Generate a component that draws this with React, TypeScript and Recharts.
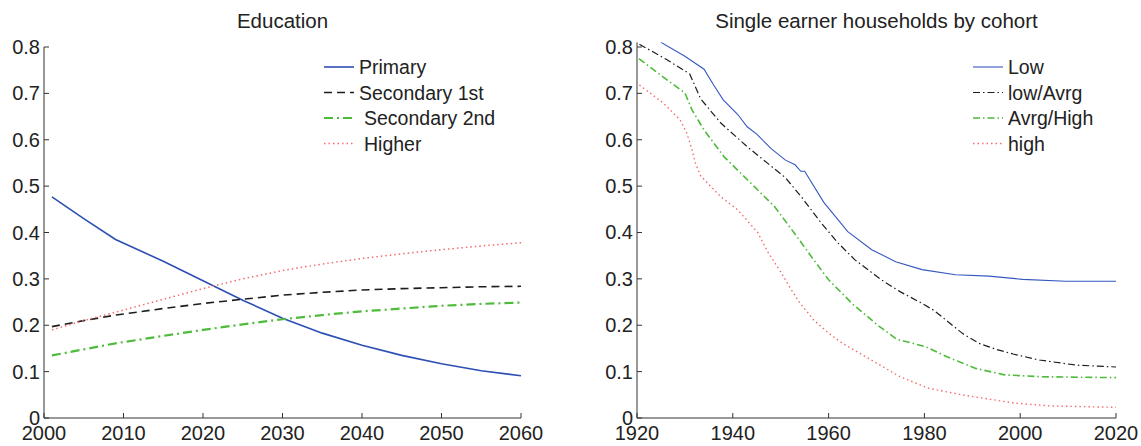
import * as React from "react";
import { LineChart, Line, XAxis, YAxis } from "recharts";

// ---- Education panel ----
const eduYears = [2001, 2005, 2009, 2015, 2020, 2025, 2030, 2035, 2040, 2045, 2050, 2055, 2060];
const primary = [0.477, 0.43, 0.385, 0.338, 0.296, 0.254, 0.215, 0.183, 0.157, 0.135, 0.117, 0.102, 0.091];
const secondary1 = [0.197, 0.21, 0.222, 0.236, 0.247, 0.256, 0.265, 0.271, 0.276, 0.279, 0.281, 0.283, 0.284];
const secondary2 = [0.135, 0.148, 0.161, 0.177, 0.19, 0.202, 0.213, 0.222, 0.23, 0.236, 0.242, 0.246, 0.249];
const higher = [0.19, 0.21, 0.228, 0.256, 0.279, 0.3, 0.318, 0.332, 0.344, 0.354, 0.363, 0.371, 0.378];
const eduXTicks = [2000, 2010, 2020, 2030, 2040, 2050, 2060];

// ---- Single earner households panel: [cohort, share] ----
const low = [
  [1925, 0.81], [1930, 0.78], [1934, 0.752], [1936, 0.718], [1938, 0.686], [1941, 0.655],
  [1943, 0.628], [1945, 0.612], [1948, 0.581], [1951, 0.556], [1953, 0.546], [1954.2, 0.532],
  [1955, 0.532], [1959, 0.465], [1964, 0.402], [1969, 0.363], [1974, 0.337], [1979.5, 0.32],
  [1986.5, 0.309], [1993.5, 0.306], [2000.5, 0.299], [2009.5, 0.295], [2020, 0.295],
];
const lowAvrg = [
  [1920.5, 0.806], [1926, 0.774], [1931, 0.742], [1933.3, 0.688], [1937.5, 0.636], [1943, 0.585],
  [1947.3, 0.549], [1951, 0.518], [1954.3, 0.477], [1958.5, 0.42], [1962, 0.377], [1965.5, 0.341],
  [1971, 0.298], [1975, 0.272], [1979, 0.25], [1982, 0.232], [1985, 0.207], [1988, 0.182],
  [1991.4, 0.161], [1995, 0.148], [1998.5, 0.138], [2004, 0.125], [2011.7, 0.114], [2020, 0.11],
];
const avrgHigh = [
  [1920.4, 0.775], [1925.5, 0.735], [1930, 0.701], [1931.5, 0.664], [1934, 0.621], [1938.2, 0.563],
  [1944.5, 0.499], [1948.7, 0.456], [1952.9, 0.398], [1956.4, 0.348], [1960, 0.298], [1965.2, 0.244],
  [1970.4, 0.199], [1974.2, 0.17], [1980.2, 0.154], [1984.7, 0.132], [1990.7, 0.107], [1996.7, 0.093],
  [2004.2, 0.089], [2020, 0.087],
];
const high = [
  [1920.5, 0.718], [1925.5, 0.679], [1929, 0.643], [1930.4, 0.614], [1931.5, 0.578], [1932.2, 0.549],
  [1933.3, 0.522], [1937.5, 0.477], [1941, 0.449], [1945.2, 0.4], [1947.3, 0.358], [1950, 0.315],
  [1952, 0.28], [1954, 0.248], [1956.9, 0.211], [1960, 0.183], [1962.9, 0.161], [1968.9, 0.125],
  [1974.9, 0.089], [1980.9, 0.064], [1988.4, 0.049], [1998.9, 0.032], [2006.4, 0.026], [2020, 0.023],
];
const cohortXTicks = [1920, 1940, 1960, 1980, 2000, 2020];

const shareTicks = [0, 0.1, 0.2, 0.3, 0.4, 0.5, 0.6, 0.7, 0.8];

const FONT = "'Liberation Sans', Arial, Helvetica, sans-serif";
const AXIS = "#333";
const FS = 20;
const LEGEND_FS = 19.5;
const TITLE_FS = 20.5;

const eduSeries = [
  { key: "primary", name: "Primary", color: "#2d4fb3", dash: undefined, width: 1.6, indent: 0 },
  { key: "secondary1", name: "Secondary 1st", color: "#1e1e1e", dash: "8 5", width: 1.6, indent: 0 },
  { key: "secondary2", name: "Secondary 2nd", color: "#4fbb3b", dash: "9 4 2 4", width: 2.2, indent: 5 },
  { key: "higher", name: "Higher", color: "#f26c6c", dash: "1.5 3", width: 1.5, indent: 5 },
];

const cohortSeries = [
  { name: "Low", points: low, color: "#3558c0", dash: undefined, width: 1.1 },
  { name: "low/Avrg", points: lowAvrg, color: "#1e1e1e", dash: "7 3 1.5 3", width: 1.2 },
  { name: "Avrg/High", points: avrgHigh, color: "#4fbb3b", dash: "7 3 1.5 3", width: 1.6 },
  { name: "high", points: high, color: "#f26c6c", dash: "1.5 3", width: 1.4 },
];

const eduData = eduYears.map((year, i) => ({
  year,
  primary: primary[i],
  secondary1: secondary1[i],
  secondary2: secondary2[i],
  higher: higher[i],
}));

const fmt = (v: number) => String(Math.round(v * 10) / 10);

function YTick(props: any) {
  const { x, y, payload } = props;
  return (
    <g>
      <line x1={x} y1={y} x2={x + 5} y2={y} stroke={AXIS} strokeWidth={1} />
      <text x={x - 4} y={y} textAnchor="end" dominantBaseline="central" fontSize={FS} fontFamily={FONT} fill="#222">
        {fmt(payload.value)}
      </text>
    </g>
  );
}

function XTick(props: any) {
  const { x, y, payload } = props;
  return (
    <g>
      <line x1={x} y1={y} x2={x} y2={y - 5} stroke={AXIS} strokeWidth={1} />
      <text x={x} y={y + 22} textAnchor="middle" fontSize={FS} fontFamily={FONT} fill="#222">
        {payload.value}
      </text>
    </g>
  );
}

function LegendRows({ x, items }: { x: number; items: { name: string; color: string; dash?: string; width: number; indent?: number }[] }) {
  return (
    <g>
      {items.map((s, i) => {
        const y = 67 + i * 25.5;
        return (
          <g key={s.name}>
            <line x1={x} y1={y} x2={x + 30} y2={y} stroke={s.color} strokeWidth={s.width} strokeDasharray={s.dash} />
            <text x={x + 35 + (s.indent || 0)} y={y} dominantBaseline="central" fontSize={LEGEND_FS} fontFamily={FONT} fill="#222">
              {s.name}
            </text>
          </g>
        );
      })}
    </g>
  );
}

export default function App() {
  return (
    <div style={{ position: "absolute", left: 0, top: 0, width: 1141, height: 446, background: "#fff" }}>
      <div style={{ position: "absolute", left: 0, top: 0 }}>
        <LineChart width={570} height={446} data={eduData} margin={{ top: 47, right: 49, bottom: 0, left: 0 }}>
          <XAxis
            dataKey="year"
            type="number"
            domain={[2000, 2060]}
            ticks={eduXTicks}
            height={28}
            tickSize={0}
            tickMargin={0}
            tickLine={false}
            axisLine={{ stroke: AXIS }}
            tick={<XTick />}
            allowDataOverflow
          />
          <YAxis
            type="number"
            domain={[0, 0.8]}
            ticks={shareTicks}
            width={44}
            tickSize={0}
            tickMargin={0}
            tickLine={false}
            axisLine={{ stroke: AXIS }}
            tick={<YTick />}
            allowDataOverflow
          />
          {eduSeries.map((s) => (
            <Line
              key={s.key}
              dataKey={s.key}
              type="linear"
              stroke={s.color}
              strokeWidth={s.width}
              strokeDasharray={s.dash}
              dot={false}
              activeDot={false}
              isAnimationActive={false}
            />
          ))}
        </LineChart>
      </div>
      <div style={{ position: "absolute", left: 580, top: 0 }}>
        <LineChart width={561} height={446} margin={{ top: 42.36, right: 25, bottom: 0, left: 0 }}>
          <XAxis
            dataKey="year"
            type="number"
            domain={[1920, 2020]}
            ticks={cohortXTicks}
            height={28}
            tickSize={0}
            tickMargin={0}
            tickLine={false}
            axisLine={{ stroke: AXIS }}
            tick={<XTick />}
            allowDataOverflow
            allowDuplicatedCategory={false}
          />
          <YAxis
            type="number"
            domain={[0, 0.81]}
            ticks={shareTicks}
            width={57}
            tickSize={0}
            tickMargin={0}
            tickLine={false}
            axisLine={{ stroke: AXIS }}
            tick={<YTick />}
            allowDataOverflow
          />
          {cohortSeries.map((s) => (
            <Line
              key={s.name}
              data={s.points.map(([year, v]) => ({ year, v }))}
              dataKey="v"
              type="linear"
              stroke={s.color}
              strokeWidth={s.width}
              strokeDasharray={s.dash}
              dot={false}
              activeDot={false}
              isAnimationActive={false}
            />
          ))}
        </LineChart>
      </div>
      <svg width={1141} height={446} style={{ position: "absolute", left: 0, top: 0, pointerEvents: "none" }}>
        <text x={282.5} y={28} textAnchor="middle" fontSize={TITLE_FS} fontFamily={FONT} fill="#222">
          Education
        </text>
        <text x={876.5} y={28} textAnchor="middle" fontSize={TITLE_FS} fontFamily={FONT} fill="#222">
          Single earner households by cohort
        </text>
        <LegendRows x={324} items={eduSeries} />
        <LegendRows x={973} items={cohortSeries} />
      </svg>
    </div>
  );
}
